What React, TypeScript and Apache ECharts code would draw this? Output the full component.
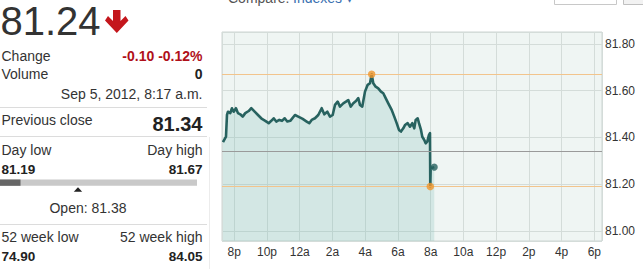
import React, { useEffect, useRef } from 'react';
import * as echarts from 'echarts';

// ---- chart data (hours after 8 p.m. of the previous day, price) ----
const priceHours = [
  -0.69, -0.507, -0.446, -0.385, -0.244, -0.141, -0.037, 0.104, 0.226, 0.367,
  0.513, 0.672, 0.88, 1.039, 1.247, 1.448, 1.693, 1.894, 2.102, 2.261,
  2.408, 2.566, 2.75, 2.915, 3.08, 3.239, 3.422, 3.709, 3.911, 4.18,
  4.424, 4.583, 4.73, 4.931, 5.133, 5.341, 5.5, 5.683, 5.848, 6.013,
  6.153, 6.318, 6.459, 6.66, 6.826, 6.966, 7.113, 7.272, 7.437, 7.577,
  7.681, 7.822, 7.987, 8.152, 8.292, 8.396, 8.494, 8.64, 8.799, 8.964,
  9.105, 9.251, 9.41, 9.618, 9.777, 9.924, 10.064, 10.186, 10.327, 10.431,
  10.596, 10.737, 10.877, 10.999, 11.085, 11.207, 11.287, 11.409, 11.488, 11.61,
  11.696, 11.794, 11.898, 11.959, 11.977, 12.001, 12.221,
];
const priceValues = [
  81.38, 81.403, 81.496, 81.51, 81.504, 81.525, 81.51, 81.525, 81.504, 81.499,
  81.489, 81.504, 81.513, 81.525, 81.51, 81.496, 81.479, 81.471, 81.461, 81.471,
  81.482, 81.468, 81.475, 81.471, 81.482, 81.468, 81.471, 81.496, 81.489, 81.479,
  81.468, 81.461, 81.475, 81.482, 81.496, 81.525, 81.499, 81.51, 81.489, 81.496,
  81.539, 81.553, 81.532, 81.546, 81.553, 81.56, 81.532, 81.546, 81.556, 81.568,
  81.539, 81.532, 81.596, 81.625, 81.632, 81.67, 81.632, 81.617, 81.61, 81.596,
  81.589, 81.568, 81.546, 81.518, 81.489, 81.461, 81.432, 81.425, 81.439, 81.453,
  81.461, 81.446, 81.461, 81.439, 81.475, 81.482, 81.461, 81.432, 81.403, 81.389,
  81.375, 81.382, 81.411, 81.418, 81.19, 81.268, 81.273,
];
const xTickLabels = ['8p', '10p', '12a', '2a', '4a', '6a', '8a', '10a', '12p', '2p', '4p', '6p'];
const xRange = [-0.75, 22.47];
const yRange = [80.957, 81.851];

const highIndex = 55;
const lowIndex = 84;

// ---- quote panel data ----
const lastPrice = 81.24;
const lastPriceText = '81.24';
const changeText = '-0.10 -0.12%';
const volumeText = '0';
const timestampText = 'Sep 5, 2012, 8:17 a.m.';
const previousClose = 81.34;
const previousCloseText = '81.34';
const dayLow = 81.19;
const dayHigh = 81.67;
const dayLowText = '81.19';
const dayHighText = '81.67';
const openPrice = 81.38;
const openText = 'Open: 81.38';
const week52LowText = '74.90';
const week52HighText = '84.05';

const FF = '"Liberation Sans", Arial, Helvetica, sans-serif';

function txt(x: number, y: number, text: string, size: number, opts: any = {}) {
  const align = opts.align || 'left';
  const style: any = {
    x: 0,
    y: 0,
    text,
    font: `${opts.bold ? 'bold ' : ''}${size}px ${FF}`,
    fill: opts.color || '#333',
    align,
    textAlign: align,
    verticalAlign: 'middle',
    textVerticalAlign: 'middle',
  };
  if (opts.lineHeight) style.lineHeight = opts.lineHeight;
  return { type: 'text', x, y, silent: true, style };
}

function hline(y: number, x1: number, x2: number, color = '#dcdcdc') {
  return {
    type: 'line',
    silent: true,
    shape: { x1, y1: y, x2, y2: y },
    style: { stroke: color, lineWidth: 1 },
  };
}

export default function App() {
  const ref = useRef<HTMLDivElement>(null);

  useEffect(() => {
    if (!ref.current) return;
    const chart = echarts.init(ref.current, undefined, { renderer: 'svg' });

    const lineData = priceHours.map((h, i) => [h, priceValues[i]]);
    const barW = 197;
    const curW = ((lastPrice - dayLow) / (dayHigh - dayLow)) * barW;
    const openX = ((openPrice - dayLow) / (dayHigh - dayLow)) * barW;
    const R = 202.5;

    const graphics: any[] = [
      // top strip
      txt(228, -1.7, 'Compare:', 14, { color: '#555' }),
      txt(293, -1.7, 'Indexes ▾', 14, { color: '#3a6fb0' }),
      {
        type: 'rect', silent: true,
        shape: { x: 554.5, y: -2, width: 62, height: 6.5 },
        style: { fill: '#fff', stroke: '#c8c8c8', lineWidth: 1 },
      },
      {
        type: 'rect', silent: true,
        shape: { x: 623.5, y: -2, width: 30, height: 6.5 },
        style: { fill: '#f2f2f2', stroke: '#c0c0c0', lineWidth: 1 },
      },
      // big price
      txt(0.5, 20.5, lastPriceText, 40, { color: '#333' }),
      {
        type: 'polygon', silent: true,
        shape: {
          points: [
            [113, 10], [120.5, 10], [120.5, 21], [125.5, 16], [128.5, 20.5],
            [116.8, 33], [105, 20.5], [108, 16], [113, 21],
          ],
        },
        style: { fill: '#c4161c' },
      },
      txt(1.5, 56, 'Change', 14),
      txt(R, 56, changeText, 14, { align: 'right', bold: true, color: '#b0101a' }),
      txt(1.5, 73.5, 'Volume', 14),
      txt(R, 73.5, volumeText, 14, { align: 'right', bold: true, color: '#222' }),
      txt(R, 93.5, timestampText, 14, { align: 'right' }),
      hline(107.5, 0, 207),
      txt(1.5, 120, 'Previous close', 14),
      txt(R, 123.7, previousCloseText, 20, { align: 'right', bold: true, color: '#222' }),
      hline(136.5, 0, 207),
      {
        type: 'line', silent: true,
        shape: { x1: 209.5, y1: 137, x2: 209.5, y2: 269 },
        style: { stroke: '#ececec', lineWidth: 1 },
      },
      txt(1.5, 149.5, 'Day low', 14),
      txt(R, 149.5, 'Day high', 14, { align: 'right' }),
      txt(1.5, 169, dayLowText, 13.5, { bold: true, color: '#222' }),
      txt(R, 169, dayHighText, 13.5, { align: 'right', bold: true, color: '#222' }),
      {
        type: 'rect', silent: true,
        shape: { x: 0, y: 179.5, width: barW, height: 6.3 },
        style: { fill: '#c9c9c9' },
      },
      {
        type: 'rect', silent: true,
        shape: { x: 0, y: 179.5, width: curW, height: 6.3 },
        style: { fill: '#666' },
      },
      {
        type: 'polygon', silent: true,
        shape: { points: [[openX - 4.2, 191.8], [openX + 4.2, 191.8], [openX, 187.2]] },
        style: { fill: '#222' },
      },
      txt(88, 208.3, openText, 14, { align: 'center' }),
      hline(224.5, 0, 207),
      txt(1.5, 237, '52 week low', 14),
      txt(R, 237, '52 week high', 14, { align: 'right' }),
      txt(1.5, 256, week52LowText, 13.5, { bold: true, color: '#222' }),
      txt(R, 256, week52HighText, 13.5, { align: 'right', bold: true, color: '#222' }),
    ];

    const isMult = (v: number, step: number) => Math.abs(v / step - Math.round(v / step)) < 1e-6;

    chart.setOption({
      animation: false,
      backgroundColor: '#fff',
      textStyle: { fontFamily: FF },
      grid: {
        left: 222,
        right: 41,
        top: 32,
        bottom: 28,
        show: true,
        backgroundColor: '#eff5f3',
        borderColor: '#cdd5d2',
        borderWidth: 1,
        containLabel: false,
        outerBoundsMode: 'none',
      },
      xAxis: {
        type: 'value',
        min: xRange[0],
        max: xRange[1],
        splitNumber: 12,
        axisLine: { show: false },
        axisTick: { show: false },
        axisLabel: {
          show: true,
          margin: 5,
          fontSize: 12,
          color: '#333',
          fontFamily: FF,
          showMinLabel: false,
          showMaxLabel: false,
          hideOverlap: false,
          formatter: (v: number) => (isMult(v, 2) ? xTickLabels[Math.round(v / 2)] ?? '' : ''),
        },
        splitLine: { show: true, lineStyle: { color: '#d4dcd9', width: 1 } },
      },
      yAxis: {
        type: 'value',
        position: 'right',
        min: yRange[0],
        max: yRange[1],
        splitNumber: 5,
        axisLine: { show: false },
        axisTick: { show: false },
        axisLabel: {
          show: true,
          margin: 3,
          fontSize: 12,
          color: '#333',
          fontFamily: FF,
          showMinLabel: false,
          showMaxLabel: false,
          formatter: (v: number) => (isMult(v, 0.2) ? v.toFixed(2) : ''),
        },
        splitLine: { show: true, lineStyle: { color: '#d4dcd9', width: 1 } },
      },
      series: [
        {
          type: 'line',
          data: lineData,
          showSymbol: false,
          symbol: 'none',
          lineStyle: { color: '#27625f', width: 2.6, join: 'round' },
          areaStyle: { color: 'rgba(120,188,181,0.34)', origin: 'start' },
          z: 3,
          markLine: {
            silent: true,
            symbol: 'none',
            label: { show: false },
            data: [
              { yAxis: dayHigh, lineStyle: { color: '#f2c48c', width: 1, type: 'solid' } },
              { yAxis: dayLow, lineStyle: { color: '#f2c48c', width: 1, type: 'solid' } },
              { yAxis: previousClose, lineStyle: { color: '#9a9a9a', width: 1, type: 'solid' } },
            ],
          },
        },
        {
          type: 'scatter',
          data: [lineData[highIndex], lineData[lowIndex]],
          symbol: 'circle',
          symbolSize: 7.5,
          itemStyle: { color: '#f0962c' },
          z: 5,
        },
        {
          type: 'scatter',
          data: [lineData[lineData.length - 1]],
          symbol: 'circle',
          symbolSize: 7,
          itemStyle: { color: '#27625f' },
          z: 5,
        },
      ],
      graphic: graphics,
    });

    return () => {
      chart.dispose();
    };
  }, []);

  return (
    <div
      style={{ position: 'fixed', left: 0, top: 0, width: 643, height: 269, background: '#fff', overflow: 'hidden' }}
    >
      <div ref={ref} style={{ width: 643, height: 269 }} />
    </div>
  );
}
